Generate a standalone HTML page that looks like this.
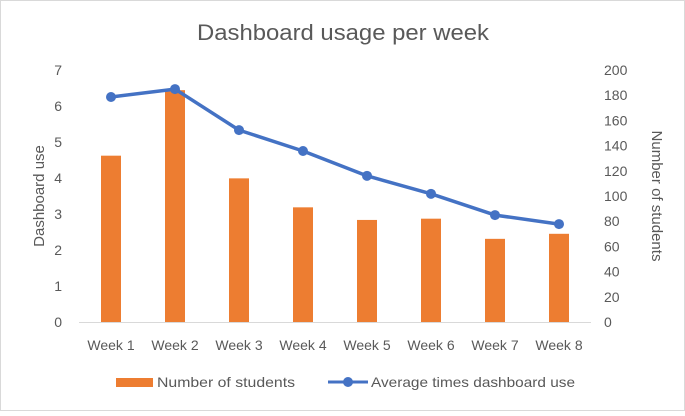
<!DOCTYPE html>
<html><head><meta charset="utf-8"><style>
body{margin:0;background:#fff;}
svg{font-family:"Liberation Sans",sans-serif;}
</style></head><body>
<svg id="c" width="685" height="411">
<rect x="0.5" y="0.5" width="684" height="410" fill="#fff" stroke="#d9d9d9"/>
<text x="343" y="40" text-anchor="middle" font-size="22" fill="#595959" textLength="292" lengthAdjust="spacingAndGlyphs">Dashboard usage per week</text>
<text transform="translate(44,196) rotate(-90)" text-anchor="middle" font-size="15" fill="#595959">Dashboard use</text>
<text transform="translate(652,196) rotate(90)" text-anchor="middle" font-size="15" fill="#595959">Number of students</text>
<g id="g"></g>
<rect x="116" y="378" width="37" height="9" fill="#ed7d31"/>
<text x="157" y="387" font-size="14" fill="#595959" textLength="138" lengthAdjust="spacingAndGlyphs">Number of students</text>
<line x1="328" y1="382" x2="368" y2="382" stroke="#4472c4" stroke-width="3"/>
<circle cx="348" cy="382" r="5" fill="#4472c4"/>
<text x="371" y="387" font-size="14" fill="#595959" textLength="204" lengthAdjust="spacingAndGlyphs">Average times dashboard use</text>
</svg>
<script>
const categories=["Week 1","Week 2","Week 3","Week 4","Week 5","Week 6","Week 7","Week 8"];
const students=[132,184,114,91,81,82,66,70];
const usage=[6.25,6.47,5.33,4.75,4.06,3.56,2.97,2.72];
const leftTicks=[0,1,2,3,4,5,6,7];
const rightTicks=[0,20,40,60,80,100,120,140,160,180,200];
const NS="http://www.w3.org/2000/svg";
const g=document.getElementById('g');
const x0=79,step=64,yb=322,yt=70;
const xC=i=>x0+step*(i+0.5);
const yL=v=>yb-(yb-yt)*v/7;
const yR=v=>yb-(yb-yt)*v/200;
function mk(t,a){const e=document.createElementNS(NS,t);for(const k in a)e.setAttribute(k,a[k]);g.appendChild(e);return e;}
leftTicks.forEach(v=>{
 const t=mk('text',{x:62,y:yL(v)+5,'text-anchor':'end','font-size':14,fill:'#595959'});t.textContent=v;
 
 
});
rightTicks.forEach(v=>{
 const t=mk('text',{x:604,y:yR(v)+5,'font-size':14,fill:'#595959'});t.textContent=v;
 
 
});
const ax=mk('line',{x1:x0,x2:x0+step*8,y1:yb+0.5,y2:yb+0.5,stroke:'#d9d9d9'});


categories.forEach((c,i)=>{
 const t=mk('text',{x:xC(i),y:350,'text-anchor':'middle','font-size':14,fill:'#595959'});t.textContent=c;
 
 
});
students.forEach((v,i)=>{
 const r=mk('rect',{x:xC(i)-10,y:yR(v),width:20,height:yb-yR(v),fill:'#ed7d31'});
 
 
});
const p=mk('polyline',{points:usage.map((v,i)=>xC(i)+','+yL(v)).join(' '),fill:'none',stroke:'#4472c4','stroke-width':3.5,'stroke-linejoin':'round'});


usage.forEach((v,i)=>{
 const c=mk('circle',{cx:xC(i),cy:yL(v),r:5,fill:'#4472c4'});
 
 
});
</script>
</body></html>
